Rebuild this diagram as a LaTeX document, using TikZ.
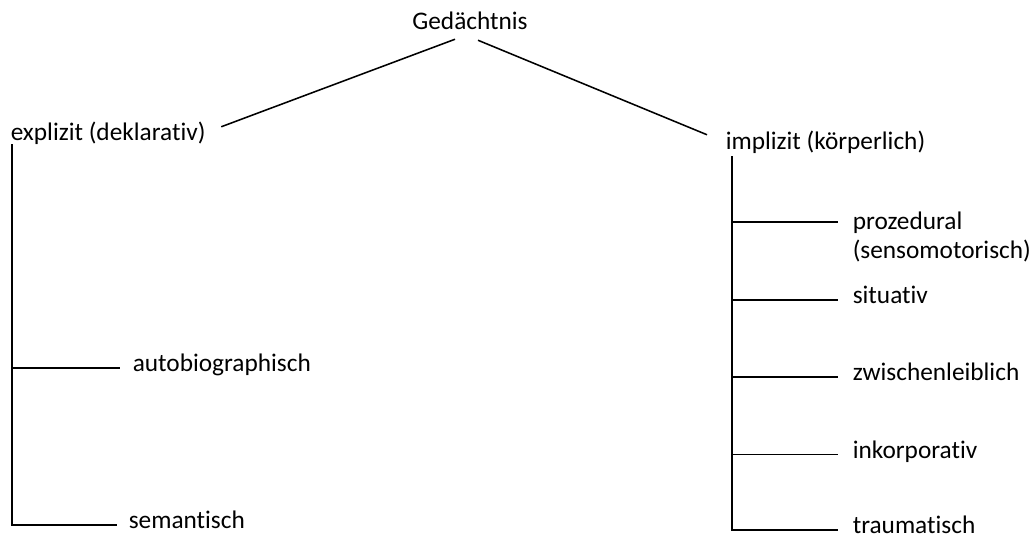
\documentclass[tikz,border=0pt]{standalone}
\usepackage{fontspec}
\setmainfont{Carlito}[Ligatures=NoCommon]
\usetikzlibrary{calc,positioning}

\begin{document}
\begin{tikzpicture}[x=0.025cm,y=-0.025cm,line width=1.1pt,node distance=1.93cm,
    word node/.style={inner sep=0pt,font=\fontsize{18}{18.5}\selectfont,text height=0.72em,text depth=0.2em},
    root node/.style={word node,anchor=center},
    leaf node/.style={word node,anchor=west},
    twoline node/.style={inner sep=0pt,font=\fontsize{18}{20.5}\selectfont,anchor=north west,align=left}]
    \useasboundingbox (0,0) rectangle (1036,542);

    % top
    \node[root node] (gd) at (470,26) {Gedächtnis};
    \node[leaf node] (exp) at (10,137) {explizit (deklarativ)};
    \node[leaf node] (imp) at (725,146) {implizit (körperlich)};

    \draw ($(gd.south)+(-15,6)$) -- ($(exp.north east)+(15,-3)$);
    \draw ($(gd.south)+(8,7)$) -- ($(imp.north west)+(-18,-4)$);

    % explizit
    \node[leaf node] (auto) at (132,368) {autobiographisch};
    \node[leaf node] (sem) at (128,525) {semantisch};

    \coordinate (etop) at ($(exp.south west)+(2,0)$);
    \draw (etop) |- ($(sem.west)+(-11,0)$);
    \draw (etop |- auto.west) -- ($(auto.west)+(-12,0)$);

    % implizit
    \node[twoline node] (proz) at (852,211) {prozedural\\(sensomotorisch)};
    \node[leaf node] (sit) at (852,300) {situativ};
    \node[leaf node] (zw) [below=of sit.west,anchor=west] {zwischenleiblich};
    \node[leaf node] (ink) [below=of zw.west,anchor=west] {inkorporativ};
    \node[leaf node] (tr) at (852,530) {traumatisch};

    \coordinate (itop) at ($(imp.south west)+(7,3)$);
    \coordinate (pz) at ($(proz.north west)+(-14,11)$);
    \draw (itop) |- ($(tr.west)+(-14,0)$);
    \draw (itop |- pz) -- (pz);
    \foreach \n in {sit,zw,ink}
        \draw (itop |- \n.west) -- ($(\n.west)+(-14,0)$);
\end{tikzpicture}
\end{document}
